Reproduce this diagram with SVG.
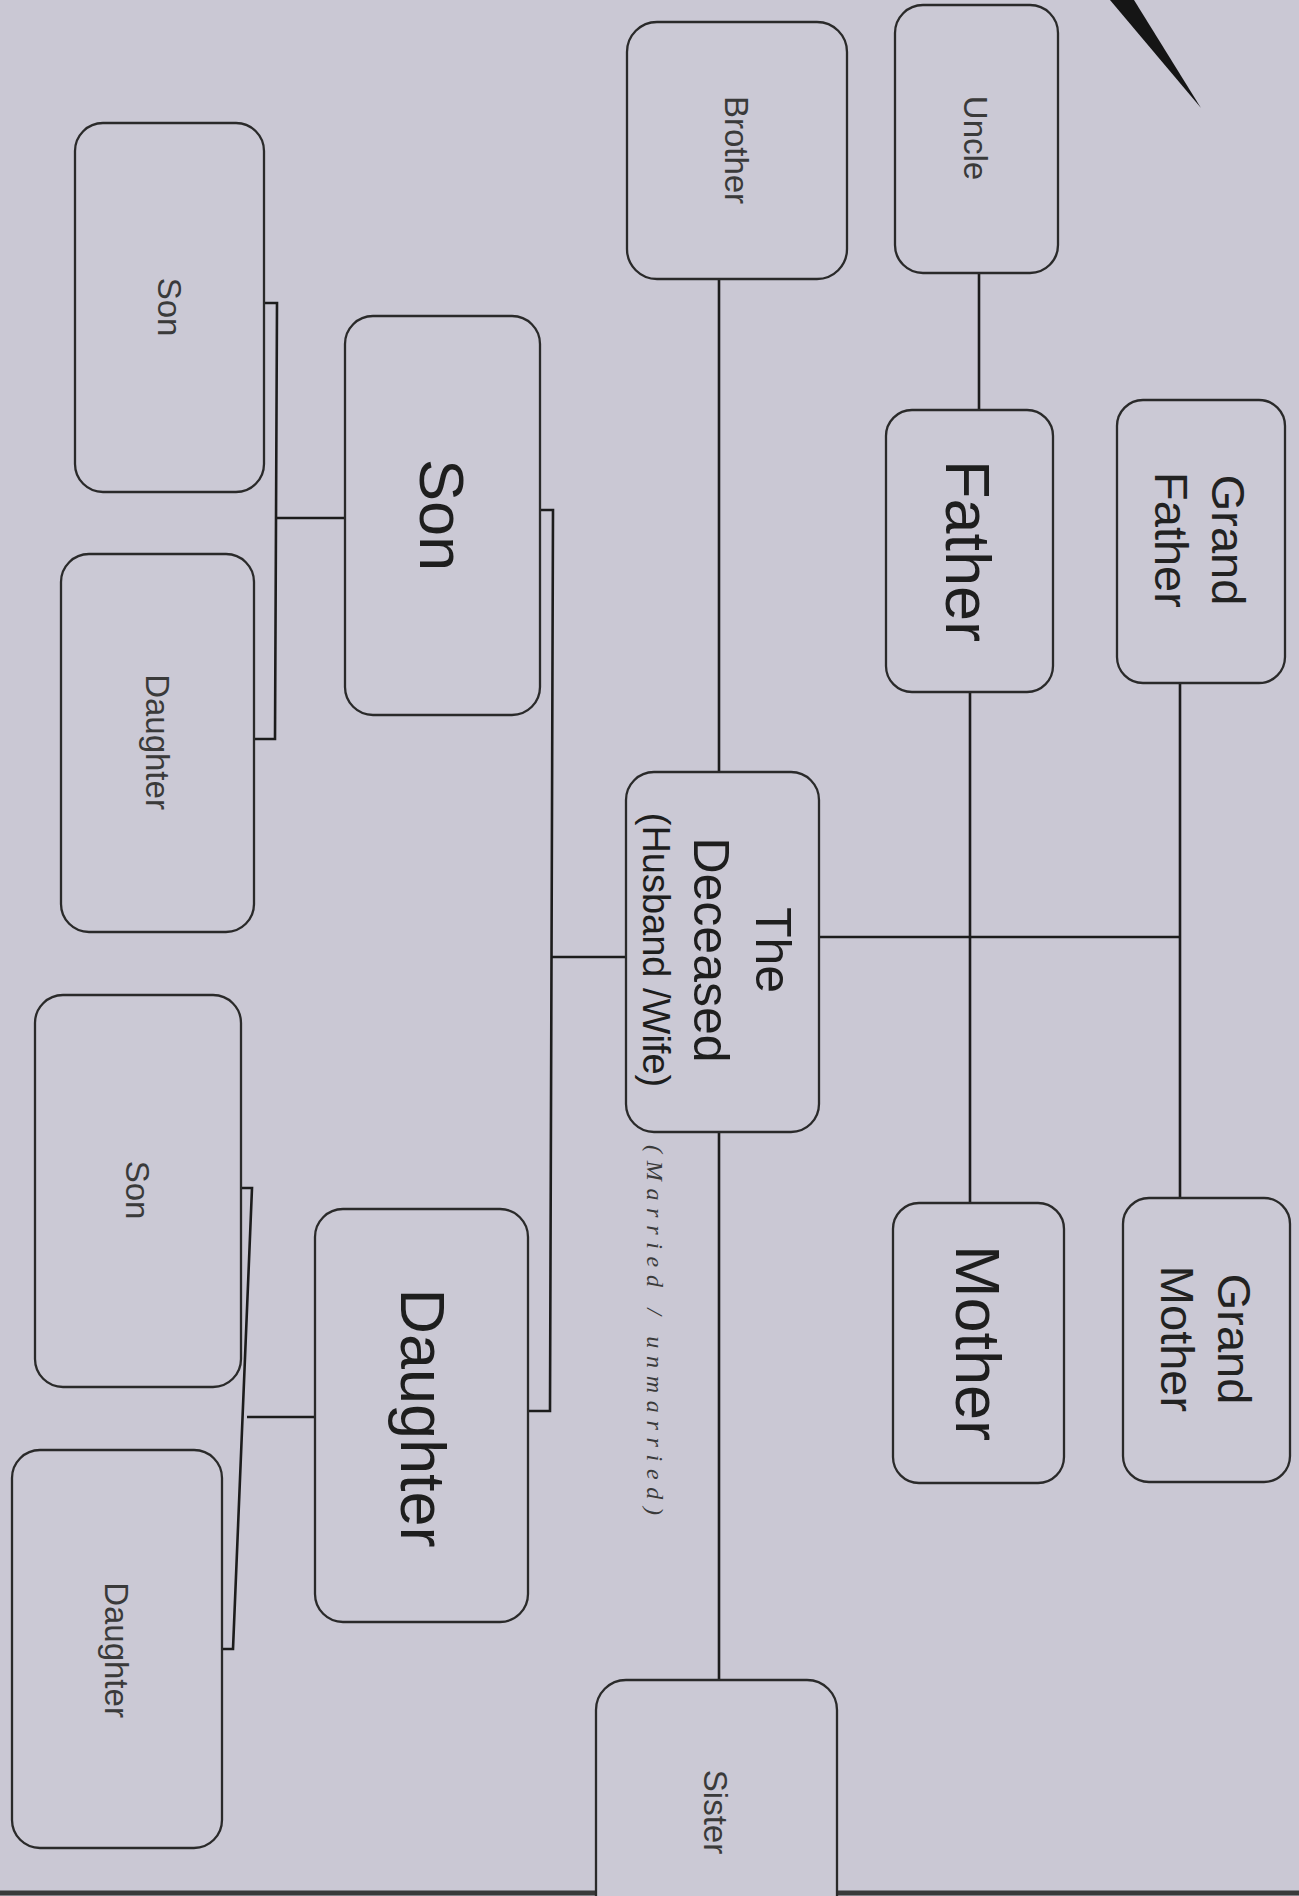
<svg xmlns="http://www.w3.org/2000/svg" width="1299" height="1896" viewBox="0 0 1299 1896">
<style>
.box{fill:#cbc9d5;stroke:#2a2a2a;stroke-width:2.3}
.ln{stroke:#1c1c1c;stroke-width:2.6;fill:none}
.big{font-family:"Liberation Sans",Arial,sans-serif;font-size:63px;fill:#1e1e1e;text-anchor:middle}
.mid{font-family:"Liberation Sans",Arial,sans-serif;font-size:47px;fill:#222;text-anchor:middle}
.sm{font-family:"Liberation Sans",Arial,sans-serif;font-size:33px;fill:#3a3a3a;text-anchor:middle}
.hand{font-family:"Liberation Serif",serif;font-style:italic;font-size:24px;fill:#3a3a3a;text-anchor:middle}
</style>
<rect x="0" y="0" width="1299" height="1896" fill="#cac8d4"/>
<polygon points="1110,0 1134,0 1201,108" fill="#151515"/>
<line x1="0" y1="1893" x2="1299" y2="1893" stroke="#3a3a3a" stroke-width="5"/>

<g id="connectors">
<line class="ln" x1="979" y1="272" x2="979" y2="410"/>
<line class="ln" x1="1180" y1="682" x2="1180" y2="1198"/>
<line class="ln" x1="970" y1="691" x2="970" y2="1203"/>
<line class="ln" x1="818" y1="937" x2="1180" y2="937"/>
<line class="ln" x1="719" y1="279" x2="719" y2="772"/>
<line class="ln" x1="719" y1="1131" x2="719" y2="1680"/>
<polyline class="ln" points="626,957 552,957"/>
<polyline class="ln" points="540,510 553,510 550,1411 528,1411"/>
<polyline class="ln" points="264,303 277,303 275,739 254,739"/>
<line class="ln" x1="276" y1="518" x2="345" y2="518"/>
<polyline class="ln" points="241,1188 252,1188 233,1649 222,1649"/>
<line class="ln" x1="247" y1="1417" x2="315" y2="1417"/>
</g>

<g id="uncle"><rect class="box" x="895" y="5" width="163" height="268" rx="28"/>
<g transform="translate(976,138) rotate(90)"><text class="sm" x="0" y="12">Uncle</text></g></g>

<g id="brother"><rect class="box" x="627" y="22" width="220" height="257" rx="30"/>
<g transform="translate(737,150) rotate(90)"><text class="sm" x="0" y="12">Brother</text></g></g>

<g id="grandfather"><rect class="box" x="1117" y="400" width="168" height="283" rx="26"/>
<g transform="translate(1200,540) rotate(90)"><text class="mid" x="0" y="-12">Grand</text><text class="mid" x="0" y="45">Father</text></g></g>

<g id="father"><rect class="box" x="886" y="410" width="167" height="282" rx="26"/>
<g transform="translate(968,551) rotate(90)"><text class="big" x="0" y="22">Father</text></g></g>

<g id="deceased"><rect class="box" x="626" y="772" width="193" height="360" rx="28"/>
<g transform="translate(721,950) rotate(90)">
<text class="big" style="font-size:50px" x="0" y="-35">The</text>
<text class="big" style="font-size:50px" x="0" y="27">Deceased</text>
<text class="big" style="font-size:38px" x="0" y="78">(Husband /Wife)</text></g></g>

<g id="annotation"><g transform="translate(655,1330) rotate(90)"><text class="hand" x="0" y="8" textLength="370" lengthAdjust="spacing">(Married / unmarried)</text></g></g>

<g id="mother"><rect class="box" x="893" y="1203" width="171" height="280" rx="26"/>
<g transform="translate(978,1343) rotate(90)"><text class="big" x="0" y="22">Mother</text></g></g>

<g id="grandmother"><rect class="box" x="1123" y="1198" width="167" height="284" rx="26"/>
<g transform="translate(1206,1339) rotate(90)"><text class="mid" x="0" y="-12">Grand</text><text class="mid" x="0" y="45">Mother</text></g></g>

<g id="son"><rect class="box" x="345" y="316" width="195" height="399" rx="28"/>
<g transform="translate(442,515) rotate(90)"><text class="big" x="0" y="22">Son</text></g></g>

<g id="son-son"><rect class="box" x="75" y="123" width="189" height="369" rx="28"/>
<g transform="translate(170,307) rotate(90)"><text class="sm" x="0" y="12">Son</text></g></g>

<g id="son-daughter"><rect class="box" x="61" y="554" width="193" height="378" rx="28"/>
<g transform="translate(158,742) rotate(90)"><text class="sm" x="0" y="12">Daughter</text></g></g>

<g id="daughter"><rect class="box" x="315" y="1209" width="213" height="413" rx="28"/>
<g transform="translate(423,1418) rotate(90)"><text class="big" x="0" y="22">Daughter</text></g></g>

<g id="daughter-son"><rect class="box" x="35" y="995" width="206" height="392" rx="28"/>
<g transform="translate(138,1190) rotate(90)"><text class="sm" x="0" y="12">Son</text></g></g>

<g id="daughter-daughter"><rect class="box" x="12" y="1450" width="210" height="398" rx="28"/>
<g transform="translate(117,1650) rotate(90)"><text class="sm" x="0" y="12">Daughter</text></g></g>

<g id="sister"><rect class="box" x="596" y="1680" width="241" height="280" rx="30"/>
<g transform="translate(716,1812) rotate(90)"><text class="sm" x="0" y="12">Sister</text></g></g>
</svg>
